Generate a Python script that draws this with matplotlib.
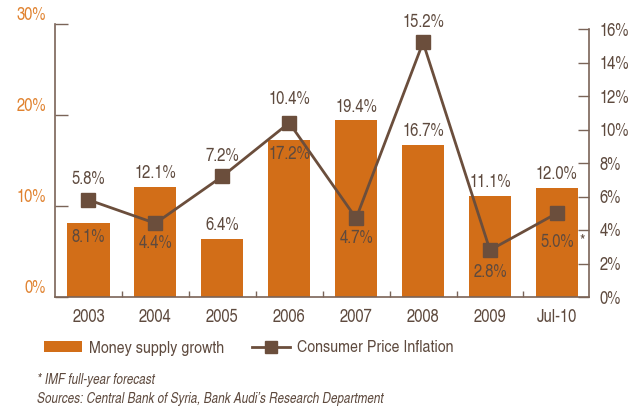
import matplotlib
matplotlib.use("Agg")
import matplotlib.pyplot as plt
from matplotlib.patches import Patch
from matplotlib.lines import Line2D

plt.rcParams['font.family'] = ['TeX Gyre Heros Cn', 'DejaVu Sans']

# data
years = ['2003', '2004', '2005', '2006', '2007', '2008', '2009', 'Jul-10']
money_supply = [8.1, 12.1, 6.4, 17.2, 19.4, 16.7, 11.1, 12.0]
cpi = [5.8, 4.4, 7.2, 10.4, 4.7, 15.2, 2.8, 5.0]
left_ticks = [0, 10, 20, 30]
right_ticks = [0, 2, 4, 6, 8, 10, 12, 14, 16]

# colours
ORANGE = '#D26E18'
BROWN = '#6B4E3C'
TEXT = '#5E4A3E'
TICK_ORANGE = '#E0822F'
SPINE = '#7A6458'

fig = plt.figure(figsize=(6.34, 4.07), dpi=100)
ax = fig.add_axes([55/634, 1 - 297/407, (589 - 55)/634, (297 - 24)/407])
ax2 = ax.twinx()

x = list(range(len(years)))

#bars
ax.bar(x, money_supply, width=0.63, color=ORANGE, zorder=2)
ax.set_xlim(-0.5, 7.48)
ax.set_ylim(0, 30)

#line
ax2.plot(x, cpi, color=BROWN, lw=2, marker='s', ms=10, mfc=BROWN, mec=BROWN, zorder=3)
ax2.set_ylim(0, 16 * 273 / 268)

# spines
for s in ['top', 'right']:
    ax.spines[s].set_visible(False)
for s in ['top', 'left', 'bottom']:
    ax2.spines[s].set_visible(False)
ax.spines['left'].set_color(SPINE)
ax.spines['bottom'].set_color(SPINE)
ax2.spines['right'].set_color(SPINE)
ax2.spines['right'].set_bounds(0, 16)
for sp in [ax.spines['left'], ax.spines['bottom'], ax2.spines['right']]:
    sp.set_linewidth(1.2)

# left axis ticks
ax.set_yticks(left_ticks)
ax.set_yticklabels([f'{v}%' for v in left_ticks])
ax.tick_params(axis='y', direction='in', length=9.5, width=1, color=SPINE,
               labelcolor=TICK_ORANGE, labelsize=13, pad=6.5)
for lab in ax.get_yticklabels():
    lab.set_va('bottom')

# right axis ticks
ax2.set_yticks(right_ticks)
ax2.set_yticklabels([f'{v}%' for v in right_ticks])
ax2.tick_params(axis='y', direction='in', length=8, width=1, color=SPINE,
                labelcolor=TEXT, labelsize=13, pad=7.5)

# x ticks: labels under bars, small marks between bars
ax.set_xticks(x)
ax.set_xticklabels(years)
ax.set_xticks([i + 0.5 for i in x[:-1]], minor=True)
ax.tick_params(axis='x', which='major', length=0, labelcolor=TEXT, labelsize=13, pad=9)
ax.tick_params(axis='x', which='minor', direction='in', length=4, width=1, color=SPINE)

# bar labels (inside for 2003 and 2006)
inside = [True, False, False, True, False, False, False, False]
for i, v in enumerate(money_supply):
    if inside[i]:
        ax2.annotate(f'{v:.1f}%', (i, v), xycoords=ax.transData, xytext=(0, -4),
                     textcoords='offset points', ha='center', va='top',
                     color=TEXT, fontsize=13, zorder=5)
    else:
        ax2.annotate(f'{v:.1f}%', (i, v), xycoords=ax.transData, xytext=(0, 3.5),
                     textcoords='offset points', ha='center', va='bottom',
                     color=TEXT, fontsize=13, zorder=5)

# line labels
line_dy = [14.5, -14.5, 14.5, 16.5, -14.5, 14.5, -16, -21]
for i, v in enumerate(cpi):
    ax2.annotate(f'{v:.1f}%', (i, v), xytext=(0, line_dy[i]),
                 textcoords='offset points', ha='center', va='center',
                 color=TEXT, fontsize=13, zorder=5)
# forecast marker next to the Jul-10 figure
ax2.annotate('*', (7, cpi[-1]), xytext=(18.5, -19.5), textcoords='offset points',
             ha='center', va='center', color=TEXT, fontsize=12, zorder=6)

# legend
handles = [Patch(facecolor=ORANGE, edgecolor='none'),
           Line2D([0], [0], color=BROWN, lw=2, marker='s', ms=8.5, mfc=BROWN, mec=BROWN)]
leg = fig.legend(handles, ['Money supply growth', 'Consumer Price Inflation'],
                 loc='center left', bbox_to_anchor=(35/634, 1 - 348/407), ncol=2,
                 frameon=False, fontsize=12.5, handlelength=2.2, handleheight=0.6,
                 handletextpad=0.4, columnspacing=1.6, borderpad=0)
for t in leg.get_texts():
    t.set_color(TEXT)

# footnotes
fig.text(37/634, 1 - 380/407, '* IMF full-year forecast', style='italic',
         color=TEXT, fontsize=10.3, va='center')
fig.text(37/634, 1 - 399/407,
         "Sources: Central Bank of Syria, Bank Audi\u2019s Research Department",
         style='italic', color=TEXT, fontsize=10.3, va='center')

fig.savefig('out.png', dpi=100)
